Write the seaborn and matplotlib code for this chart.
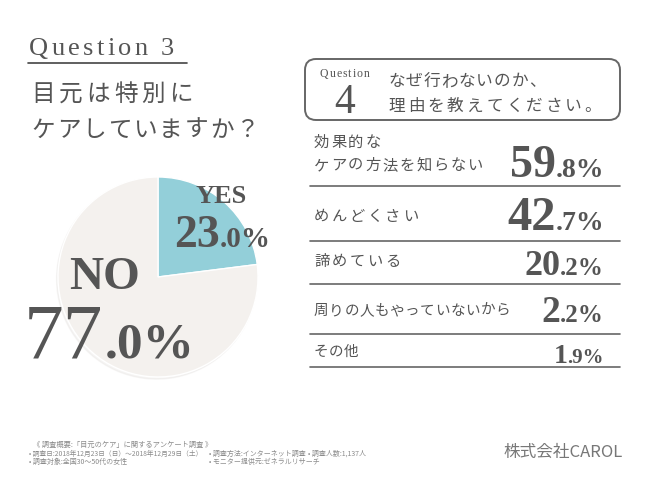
import numpy as np
import matplotlib
matplotlib.use("Agg")
import matplotlib.pyplot as plt
import seaborn as sns
from matplotlib.patches import FancyBboxPatch

# Datos de la grafica
pie_labels = ["YES", "NO"]
pie_values = [23.0, 77.0]
reasons = ["効果的な\nケアの方法を知らない", "めんどくさい", "諦めている",
           "周りの人もやっていないから", "その他"]
reason_values = [59.8, 42.7, 20.2, 2.2, 1.9]

sns.set_theme(style="white")
plt.rcParams['font.family'] = ['Noto Sans CJK JP', 'DejaVu Sans']

GRIS = "#555555"
SERIF = "Liberation Serif"

fig = plt.figure(figsize=(6.5, 4.88), dpi=100)
fig.patch.set_facecolor("white")

# pastel (radio ~100 px, centro en (158, 277))
axp = fig.add_axes([(158 - 105) / 650, (488 - 277 - 105) / 488, 210 / 650, 210 / 488])
axp.pie(pie_values, startangle=90, counterclock=False,
        colors=["#93cfd9", "#f4f1ee"], radius=1.0,
        shadow={"ox": -0.01, "oy": -0.015, "shade": 0.1, "alpha": 0.25})
axp.set_xlim(-1.05, 1.05)
axp.set_ylim(-1.05, 1.05)
axp.set_aspect("equal")
axp.axis("off")

# capa de texto en pixeles
ax = fig.add_axes([0, 0, 1, 1])
ax.set_xlim(0, 650)
ax.set_ylim(488, 0)
ax.axis("off")
ax.patch.set_alpha(0)

renderer = fig.canvas.get_renderer()


def espaciado(x, y, s, size, track, **kw):
    # texto con espacio extra entre letras
    for ch in s:
        t = ax.text(x, y, ch, fontsize=size, va="baseline", **kw)
        x = t.get_window_extent(renderer).x1 + track
    return x


def numero(x_der, y, valor, big, small, gap=0):
    # parte chica a la derecha, parte grande a su izquierda
    entero = int(valor)
    dec = f".{round((valor - entero) * 10):d}%"
    t = ax.text(x_der, y, dec, ha="right", va="baseline", fontsize=small,
                family=SERIF, fontweight="bold", color=GRIS)
    bb = t.get_window_extent(renderer)
    ax.text(bb.x0 - gap, y, str(entero), ha="right", va="baseline", fontsize=big,
            family=SERIF, fontweight="bold", color=GRIS)


# titulo izquierdo
espaciado(29, 55, "Question 3", 19, 3.3, family=SERIF, color=GRIS)
ax.plot([28, 187], [63, 63], color="#444444", lw=1.2)
espaciado(31, 101, "目元は特別に", 17, 4, color=GRIS)
espaciado(31, 137, "ケアしていますか？", 17, 2, color=GRIS)

# etiquetas del pastel
ax.text(221, 203, pie_labels[0], fontsize=19, family=SERIF, fontweight="bold",
        color=GRIS, ha="center", va="baseline")
numero(271, 247, pie_values[0], 33, 21)
ax.text(105, 289, pie_labels[1], fontsize=34, family=SERIF, fontweight="bold",
        color=GRIS, ha="center", va="baseline")
t = ax.text(195, 358, ".0%", fontsize=37, family=SERIF, fontweight="bold",
            color=GRIS, ha="right", va="baseline")
bb = t.get_window_extent(renderer)
ax.text(bb.x0 - 2, 358, str(int(pie_values[1])), fontsize=57, family=SERIF,
        color=GRIS, ha="right", va="baseline")

# caja de la pregunta 4
caja = FancyBboxPatch((305, 59), 315, 61, boxstyle="round,pad=0,rounding_size=11",
                      fc="white", ec="#666666", lw=1.4)
ax.add_patch(caja)
espaciado(320, 77, "Question", 8.5, 1, family=SERIF, color=GRIS)
ax.text(345, 113, "4", fontsize=30, family=SERIF, color=GRIS,
        ha="center", va="baseline")
espaciado(388, 86, "なぜ行わないのか、", 12, 1, color=GRIS)
espaciado(388, 111, "理由を教えてください。", 12, 3, color=GRIS)

# filas de razones
lineas = [186, 241, 284, 334, 367]
bases_num = [177, 230, 275, 322, 363]
bases_txt = [170, 221, 266, 315, 356]
tam_big = [33, 35, 26, 27, 20]
tam_small = [20, 20, 18, 18, 15]
tam_txt = [11, 11, 11, 10.5, 10.5]
track_txt = [1.8, 2.5, 2.5, 0.5, 0.2]
for i in range(len(reasons)):
    lineas_txt = reasons[i].split("\n")
    for k, linea in enumerate(lineas_txt[::-1]):
        espaciado(314, bases_txt[i] - 23 * k, linea, tam_txt[i], track_txt[i],
                  color=GRIS)
    numero(604, bases_num[i], reason_values[i], tam_big[i], tam_small[i])
    ax.plot([310, 620], [lineas[i], lineas[i]], color="#666666", lw=1.2)

# pie de pagina
GRIS_CLARO = "#8a8a8a"
ax.text(33, 447, "《 調査概要:「目元のケア」に関するアンケート調査 》", fontsize=5.2,
        color=GRIS_CLARO, va="baseline")
ax.text(29, 456, "• 調査日:2018年12月23日（日）～2018年12月29日（土）", fontsize=4.85,
        color=GRIS_CLARO, va="baseline")
ax.text(209, 456, "• 調査方法:インターネット調査", fontsize=5.0, color=GRIS_CLARO,
        va="baseline")
ax.text(308, 456, "• 調査人数:1,137人", fontsize=5.0, color=GRIS_CLARO, va="baseline")
ax.text(29, 464, "• 調査対象:全国30～50代の女性", fontsize=5.0, color=GRIS_CLARO,
        va="baseline")
ax.text(209, 464, "• モニター提供元:ゼネラルリサーチ", fontsize=5.0, color=GRIS_CLARO,
        va="baseline")
ax.text(623, 457, "株式会社CAROL", fontsize=12, color="#777777", ha="right",
        va="baseline")

fig.savefig("out.png", dpi=100, facecolor="white")
